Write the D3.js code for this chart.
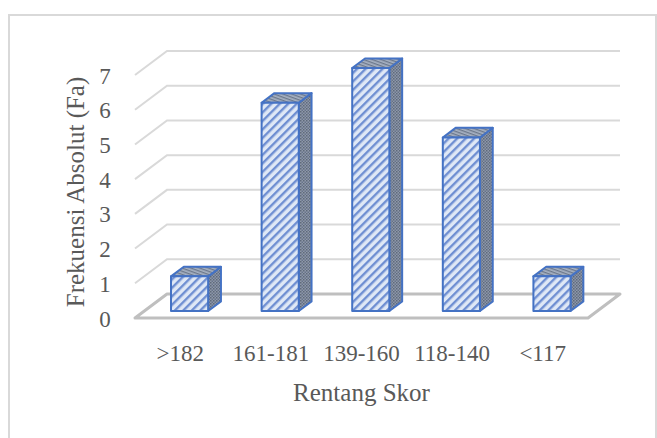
<!DOCTYPE html>
<html>
<head>
<meta charset="utf-8">
<script src="https://cdn.jsdelivr.net/npm/d3@7/dist/d3.min.js"></script>
<style>
  html, body { margin: 0; padding: 0; background: #fff; }
  svg { display: block; }
  text { font-family: "Liberation Serif", "Times New Roman", serif; fill: #595959; }
</style>
</head>
<body>
<svg id="chart" width="657" height="438"></svg>
<script>
// Frequency per score range
const categories = [">182", "161-181", "139-160", "118-140", "<117"];
const frequencies = [1, 6, 7, 5, 1];
const yTicks = [0, 1, 2, 3, 4, 5, 6, 7];
const yTitle = "Frekuensi Absolut (Fa)";
const xTitle = "Rentang Skor";

const W = 657, H = 438;
const svg = d3.select("#chart");

// 3D box: back wall coordinates plus a depth offset toward the viewer
const backWall = { left: 167, right: 620, top: 51, bottom: 294 };
const depthX = -32, depthY = 24;          // full floor depth (back -> front)
const barFront = 0.71, barBack = 0.31;    // bar depth slice (fraction of floor depth)
const barWidthFrac = 0.41;

const x = d3.scaleBand().domain(categories).range([backWall.left, backWall.right]);
const y = d3.scaleLinear().domain([0, 7]).range([backWall.bottom, backWall.top]);

// project a point on the back wall forward by depth fraction d
const P = (px, py, d) => [px + depthX * d, py + depthY * d];
const pts = a => a.map(p => p.join(",")).join(" ");

// outer chart frame
svg.append("rect")
  .attr("x", 9).attr("y", 15).attr("width", W - 10).attr("height", H)
  .attr("fill", "none").attr("stroke", "#d9d9d9").attr("stroke-width", 2);

// fill patterns for bar faces
const defs = svg.append("defs");
const frontPat = defs.append("pattern").attr("id", "hatchFront")
  .attr("patternUnits", "userSpaceOnUse").attr("width", 6).attr("height", 6)
  .attr("patternTransform", "rotate(45)");
frontPat.append("rect").attr("width", 6).attr("height", 6).attr("fill", "#dfe8f6");
frontPat.append("rect").attr("width", 2.4).attr("height", 6).attr("fill", "#6f8fd2");

const topPat = defs.append("pattern").attr("id", "hatchTop")
  .attr("patternUnits", "userSpaceOnUse").attr("width", 3).attr("height", 3)
  .attr("patternTransform", "rotate(20)");
topPat.append("rect").attr("width", 3).attr("height", 3).attr("fill", "#a7b2c3");
topPat.append("rect").attr("width", 3).attr("height", 1.3).attr("fill", "#6c788b");

const sidePat = defs.append("pattern").attr("id", "hatchSide")
  .attr("patternUnits", "userSpaceOnUse").attr("width", 3).attr("height", 3);
sidePat.append("rect").attr("width", 3).attr("height", 3).attr("fill", "#8e98a8");
sidePat.append("rect").attr("width", 1.5).attr("height", 1.5).attr("fill", "#5e697b");
sidePat.append("rect").attr("x", 1.5).attr("y", 1.5).attr("width", 1.5).attr("height", 1.5).attr("fill", "#66728a");

// gridlines: back wall + side wall
const grid = svg.append("g");
yTicks.filter(v => v > 0).forEach(v => {
  const yy = y(v);
  grid.append("polyline")
    .attr("points", pts([P(backWall.left, yy, 1), [backWall.left, yy], [backWall.right, yy]]))
    .attr("fill", "none").attr("stroke", "#d9d9d9").attr("stroke-width", 2);
});

// floor
svg.append("polygon")
  .attr("points", pts([P(backWall.left, y(0), 1), [backWall.left, y(0)], [backWall.right, y(0)], P(backWall.right, y(0), 1)]))
  .attr("fill", "none").attr("stroke", "#bfbfbf").attr("stroke-width", 3)
  .attr("stroke-linejoin", "round");

// bars
const bw = x.bandwidth() * barWidthFrac;
const bars = svg.append("g").selectAll("g")
  .data(categories.map((c, i) => ({ c, v: frequencies[i] })))
  .join("g");

bars.each(function (d) {
  const g = d3.select(this);
  const cx = x(d.c) + x.bandwidth() / 2;
  const x0 = cx - bw / 2, x1 = cx + bw / 2;
  const y0 = y(0), y1 = y(d.v);
  const style = s => s.attr("stroke", "#4472c4").attr("stroke-width", 2).attr("stroke-linejoin", "round");
  // right side face
  style(g.append("polygon")
    .attr("points", pts([P(x1, y0, barFront), P(x1, y1, barFront), P(x1, y1, barBack), P(x1, y0, barBack)]))
    .attr("fill", "url(#hatchSide)"));
  // top face
  style(g.append("polygon")
    .attr("points", pts([P(x0, y1, barFront), P(x1, y1, barFront), P(x1, y1, barBack), P(x0, y1, barBack)]))
    .attr("fill", "url(#hatchTop)"));
  // front face
  style(g.append("polygon")
    .attr("points", pts([P(x0, y0, barFront), P(x1, y0, barFront), P(x1, y1, barFront), P(x0, y1, barFront)]))
    .attr("fill", "url(#hatchFront)"));
});

// value axis labels, placed at the front edge of the side wall
const yFront = y.copy().range(y.range().map(v => v + depthY));
const yAxis = svg.append("g")
  .attr("transform", `translate(${backWall.left + depthX - 30},0)`)
  .call(d3.axisLeft(yFront).tickValues(yTicks).tickFormat(d3.format("d")).tickSize(0).tickPadding(0));
yAxis.select(".domain").remove();
yAxis.selectAll("text").attr("font-size", 23).attr("text-anchor", "middle")
  .style("font-family", "'Liberation Serif', serif").attr("fill", "#595959").attr("dy", "0.35em");

// category labels, centered on the front edge of the floor
const xFront = x.copy().range(x.range().map(v => v + depthX));
const xAxis = svg.append("g")
  .attr("transform", `translate(0,${y(0) + depthY + 35})`)
  .call(d3.axisBottom(xFront).tickSize(0).tickPadding(0));
xAxis.select(".domain").remove();
xAxis.selectAll("text").attr("font-size", 23).attr("dy", "0.35em")
  .style("font-family", "'Liberation Serif', serif").attr("fill", "#595959");

// axis titles
svg.append("text")
  .attr("transform", `translate(75,192) rotate(-90)`)
  .attr("text-anchor", "middle").attr("dy", "0.35em")
  .attr("font-size", 25).text(yTitle);
svg.append("text")
  .attr("x", (xFront.range()[0] + xFront.range()[1]) / 2).attr("y", 392)
  .attr("text-anchor", "middle").attr("dy", "0.35em")
  .attr("font-size", 25).text(xTitle);
</script>
</body>
</html>
